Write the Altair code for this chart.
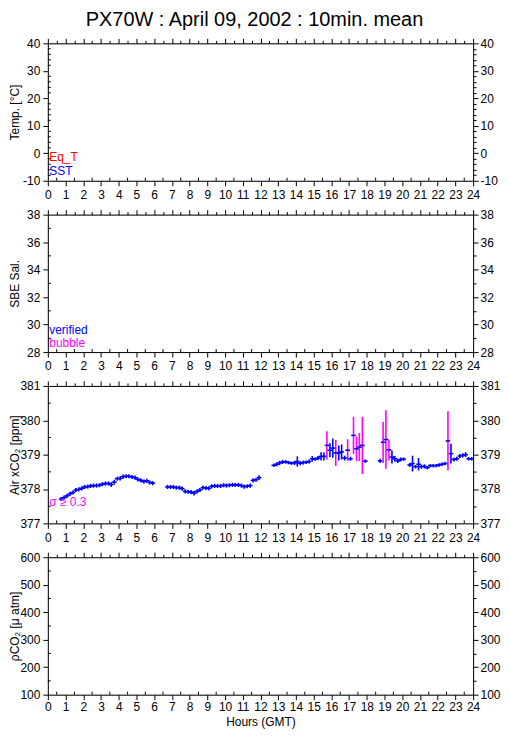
import altair as alt
import pandas as pd

FONT = "Liberation Sans"
W, H = 427, 138
BLUE = "#0000ff"
MAGENTA = "#ff00ff"
RED = "#ff0000"

# ---- Air xCO2 10-min means (hour of bin centre, ppm, std dev) ----
co2_hours = [0.75, 0.92, 1.08, 1.25, 1.42, 1.58, 1.75, 1.92, 2.08, 2.25, 2.42, 2.58, 2.75, 2.92,
             3.08, 3.25, 3.42, 3.58, 3.75, 3.92, 4.08, 4.25, 4.42, 4.58, 4.75, 4.92, 5.08, 5.25,
             5.42, 5.58, 5.75, 5.92,
             6.75, 6.92, 7.08, 7.25, 7.42, 7.58, 7.75, 7.92, 8.08, 8.25, 8.42, 8.58, 8.75, 8.92,
             9.08, 9.25, 9.42, 9.58, 9.75, 9.92, 10.08, 10.25, 10.42, 10.58, 10.75, 10.92, 11.08,
             11.25, 11.42, 11.58, 11.75, 11.92,
             12.75, 12.92, 13.08, 13.25, 13.42, 13.58, 13.75, 13.92, 14.08, 14.25, 14.42, 14.58,
             14.75, 14.92, 15.08, 15.25, 15.42, 15.58, 15.75, 15.92, 16.08, 16.25, 16.42, 16.58,
             16.75, 16.92, 17.08, 17.25, 17.42, 17.58, 17.75, 17.92,
             18.75, 18.92, 19.08, 19.25, 19.42, 19.58, 19.75, 19.92, 20.08,
             20.42, 20.58, 20.75, 20.92, 21.08, 21.25, 21.42, 21.58, 21.75, 21.92, 22.08, 22.25,
             22.42, 22.58, 22.75, 22.92, 23.08, 23.25, 23.42, 23.58, 23.75, 23.92]
co2_values = [377.71, 377.75, 377.80, 377.86, 377.90, 377.97, 377.99, 378.02, 378.06, 378.07,
              378.09, 378.10, 378.10, 378.11, 378.14, 378.16, 378.16, 378.13, 378.20, 378.30,
              378.31, 378.36, 378.37, 378.37, 378.35, 378.33, 378.28, 378.25, 378.22, 378.24,
              378.19, 378.17,
              378.06, 378.06, 378.06, 378.04, 378.04, 378.01, 377.93, 377.92, 377.91, 377.88,
              377.93, 377.97, 378.04, 378.03, 378.02, 378.08, 378.09, 378.09, 378.09, 378.11,
              378.10, 378.11, 378.12, 378.12, 378.12, 378.10, 378.07, 378.08, 378.10, 378.25,
              378.27, 378.33,
              378.69, 378.72, 378.76, 378.79, 378.79, 378.77, 378.75, 378.76, 378.80, 378.75,
              378.77, 378.78, 378.80, 378.88, 378.87, 378.90, 378.95, 378.95, 379.27, 379.13,
              379.19, 379.05, 379.05, 379.08, 378.90, 379.13, 378.88, 379.56, 379.17, 379.22,
              379.27, 378.81,
              378.82, 379.36, 379.44, 379.14, 378.93, 378.88, 378.82, 378.86, 378.87,
              378.70, 378.74, 378.65, 378.72, 378.65, 378.66, 378.62, 378.68, 378.68, 378.68,
              378.70, 378.72, 378.74, 379.40, 379.03, 378.86, 378.88, 378.96, 378.98, 379.00,
              378.88, 378.88]
co2_sd = [0.06, 0.06, 0.06, 0.06, 0.06, 0.06, 0.06, 0.06, 0.06, 0.06, 0.06, 0.06, 0.06, 0.06,
          0.06, 0.06, 0.06, 0.07, 0.07, 0.06, 0.06, 0.06, 0.06, 0.06, 0.06, 0.06, 0.06, 0.06,
          0.06, 0.06, 0.06, 0.06,
          0.06, 0.06, 0.06, 0.06, 0.06, 0.06, 0.06, 0.06, 0.06, 0.07, 0.06, 0.06, 0.06, 0.06,
          0.06, 0.06, 0.06, 0.06, 0.06, 0.06, 0.06, 0.06, 0.06, 0.06, 0.06, 0.06, 0.06, 0.06,
          0.06, 0.06, 0.06, 0.07,
          0.05, 0.06, 0.06, 0.06, 0.05, 0.05, 0.05, 0.06, 0.15, 0.06, 0.06, 0.05, 0.06, 0.08,
          0.05, 0.06, 0.12, 0.12, 0.41, 0.20, 0.28, 0.38, 0.22, 0.22, 0.07, 0.32, 0.06, 0.54,
          0.36, 0.41, 0.83, 0.05,
          0.06, 0.60, 0.85, 0.30, 0.19, 0.08, 0.06, 0.06, 0.05,
          0.06, 0.23, 0.05, 0.18, 0.06, 0.06, 0.05, 0.05, 0.05, 0.05, 0.05, 0.05, 0.05, 0.86,
          0.29, 0.06, 0.06, 0.06, 0.06, 0.07, 0.05, 0.05]

SIGMA_LIMIT = 0.3

# ---- axis tick values ----
hour_major = list(range(0, 25))
hour_half = [0.5, 1.5, 2.5, 3.5, 4.5, 5.5, 6.5, 7.5, 8.5, 9.5, 10.5, 11.5, 12.5, 13.5, 14.5,
             15.5, 16.5, 17.5, 18.5, 19.5, 20.5, 21.5, 22.5, 23.5]

panels = [
    dict(dom=[-10, 40], major=[-10, 0, 10, 20, 30, 40], step=10,
         minor=[-8, -6, -4, -2, 2, 4, 6, 8, 12, 14, 16, 18, 22, 24, 26, 28, 32, 34, 36, 38],
         title="Temp. [°C]"),
    dict(dom=[28, 38], major=[28, 30, 32, 34, 36, 38], step=2,
         minor=[29, 31, 33, 35, 37], title="SBE Sal."),
    dict(dom=[377, 381], major=[377, 378, 379, 380, 381], step=1,
         minor=[377.5, 378.5, 379.5, 380.5], title="Air xCO₂ [ppm]"),
    dict(dom=[100, 600], major=[100, 200, 300, 400, 500, 600], step=100,
         minor=[150, 250, 350, 450, 550], title="ρCO₂ [μ atm]"),
]

# legend labels: text, colour, position in the panel's own units (hour, value)
legend_text = [
    [("Eq_T", RED, 0.08, -1.3), ("SST", BLUE, 0.08, -6.4)],
    [("verified", BLUE, 0.08, 29.6), ("bubble", MAGENTA, 0.08, 28.65)],
    [("σ ≥ 0.3", MAGENTA, 0.08, 377.63)],
    [],
]

AX = dict(labelFont=FONT, labelFontSize=12, titleFont=FONT, titleFontSize=12,
          titleFontWeight="normal", labelColor="black", titleColor="black",
          domainColor="black", tickColor="black", grid=False, labelOverlap=False,
          labelFlush=False)

xscale = alt.Scale(domain=[0, 24], nice=False, zero=False)
TICK_H = 3 * 24 / W  # inward minor tick length in hours


def make_panel(i, p, last):
    yscale = alt.Scale(domain=p["dom"], nice=False, zero=False)
    step = p["step"]
    ymin, ymax = p["dom"]
    tick_v = 3 * (ymax - ymin) / H
    all_y = sorted(p["major"] + p["minor"])

    left_axis = alt.Axis(orient="left", values=p["major"], tickSize=5, labelPadding=3,
                         labelExpr="toString(datum.value)",
                         title=p["title"], titleAngle=270, titleX=-33, titleY=H / 2,
                         titleAlign="center", titleBaseline="middle", **AX)
    right_axis = alt.Axis(orient="right", values=all_y, labelPadding=2, title=None,
                          tickSize={"condition": {"test": f"abs(datum.value % {step}) < 1e-6",
                                                  "value": 5}, "value": 3},
                          labelExpr=f"abs(datum.value % {step}) < 1e-6 ? toString(datum.value) : ''",
                          **AX)
    if last:
        bottom_axis = alt.Axis(orient="bottom", values=hour_major, tickSize=5, labelPadding=2,
                               title="Hours (GMT)", titlePadding=4, **AX)
    else:
        bottom_axis = alt.Axis(orient="bottom", values=hour_major, tickSize=5, labelPadding=4,
                               title=None, **AX)
    top_axis = alt.Axis(orient="top", values=sorted(hour_major + hour_half), labels=False,
                        title=None,
                        tickSize={"condition": {"test": "datum.value % 1 === 0", "value": 5},
                                  "value": 3},
                        **AX)

    ydf = pd.DataFrame({"v": p["minor"], "a": 0.0, "b": TICK_H})
    xdf = pd.DataFrame({"h": hour_half, "a": ymin, "b": ymin + tick_v})
    corner = pd.DataFrame({"h": [0.0, 24.0], "v": [ymin, ymax]})

    l_left = alt.Chart(ydf).mark_rule(color="black").encode(
        y=alt.Y("v:Q", scale=yscale, axis=left_axis),
        x=alt.X("a:Q", scale=xscale, axis=None), x2="b:Q")
    l_bottom = alt.Chart(xdf).mark_rule(color="black").encode(
        x=alt.X("h:Q", scale=xscale, axis=bottom_axis),
        y=alt.Y("a:Q", scale=yscale, axis=None), y2="b:Q")
    l_tr = alt.Chart(corner).mark_point(opacity=0).encode(
        x=alt.X("h:Q", scale=xscale, axis=top_axis),
        y=alt.Y("v:Q", scale=yscale, axis=right_axis))

    layers = [l_left, l_bottom, l_tr]

    if i == 2:
        df = pd.DataFrame({"hour": co2_hours, "val": co2_values, "sd": co2_sd})
        df["lo"] = df["val"] - df["sd"]
        df["hi"] = df["val"] + df["sd"]
        df["h0"] = df["hour"] - 1 / 12
        df["h1"] = df["hour"] + 1 / 12
        df["flag"] = ["high" if s >= SIGMA_LIMIT else "low" for s in co2_sd]
        base = alt.Chart(df)
        vbar = base.mark_rule(strokeWidth=1.6).encode(
            x=alt.X("hour:Q", scale=xscale, axis=None),
            y=alt.Y("lo:Q", scale=yscale, axis=None), y2="hi:Q",
            color=alt.Color("flag:N", scale=alt.Scale(domain=["low", "high"],
                                                      range=[BLUE, MAGENTA]), legend=None))
        hbar = base.mark_rule(strokeWidth=1.6, color=BLUE, strokeCap="square").encode(
            x=alt.X("h0:Q", scale=xscale, axis=None), x2="h1:Q",
            y=alt.Y("val:Q", scale=yscale, axis=None))
        layers += [vbar, hbar]

    for txt, col, hx, vy in legend_text[i]:
        layers.append(alt.Chart(pd.DataFrame({"t": [txt], "h": [hx], "v": [vy]})).mark_text(
            align="left", baseline="middle", font=FONT, fontSize=12, color=col).encode(
            text="t:N", x=alt.X("h:Q", scale=xscale, axis=None),
            y=alt.Y("v:Q", scale=yscale, axis=None)))

    return alt.layer(*layers).resolve_axis(x="independent", y="independent").properties(
        width=W, height=H)


charts = [make_panel(i, p, i == 3) for i, p in enumerate(panels)]

chart = alt.vconcat(*charts, spacing=34, bounds="flush").properties(
    title=alt.TitleParams("PX70W : April 09, 2002 : 10min. mean", font=FONT, fontSize=20,
                          fontWeight="normal", color="black", anchor="middle", offset=7),
    padding={"left": 0, "top": 0, "right": 0, "bottom": 0},
).configure_view(stroke="black", strokeWidth=1).configure(background="white")

chart.save("out.html", embed_options={"renderer": "svg", "actions": False})
